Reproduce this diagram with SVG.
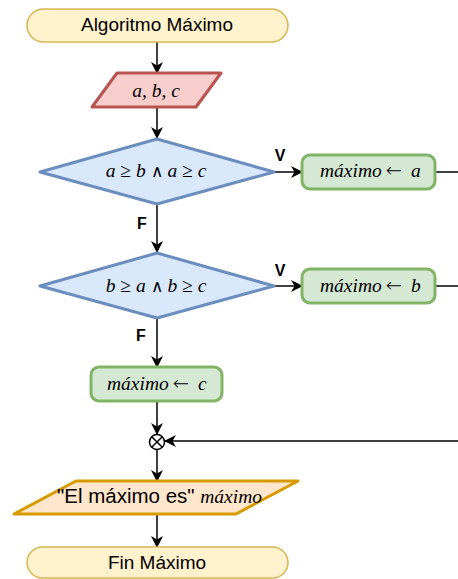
<svg xmlns="http://www.w3.org/2000/svg" width="458" height="579" viewBox="0 0 458 579">
<defs>
<marker id="arr" viewBox="0 0 12 12" refX="11" refY="6" markerWidth="12" markerHeight="12" markerUnits="userSpaceOnUse" orient="auto">
<path d="M0,0 L12,6 L0,12 L3.5,6 z" fill="#000"/>
</marker>
<style>
.term{fill:#fff2cc;stroke:#d6b656;stroke-width:1.5}
.inp{fill:#f8cecc;stroke:#b85450;stroke-width:3;stroke-linejoin:round}
.dec{fill:#dae8fc;stroke:#6c8ebf;stroke-width:3;stroke-linejoin:round}
.proc{fill:#d5e8d4;stroke:#82b366;stroke-width:3}
.out{fill:#ffe6cc;stroke:#d79b00;stroke-width:3;stroke-linejoin:round}
.edge{fill:none;stroke:#000;stroke-width:1.5}
.sans{font-family:"Liberation Sans",Arial,sans-serif;font-size:19px;fill:#000}
.lbl{font-family:"Liberation Sans",Arial,sans-serif;font-size:16px;font-weight:bold;fill:#000}
.math{font-family:"Liberation Serif","DejaVu Serif",serif;font-size:19.5px;fill:#000}
.it{font-style:italic}
.op{font-family:"DejaVu Sans",sans-serif;font-weight:200}
.and{font-family:"DejaVu Sans",sans-serif;font-weight:200;font-size:17px}
</style>
</defs>
<g id="connectors">
<path class="edge" d="M157,42 V73" marker-end="url(#arr)"/>
<path class="edge" d="M157,107 V138" marker-end="url(#arr)"/>
<path class="edge" d="M274,172 H302" marker-end="url(#arr)"/>
<path class="edge" d="M157,204 V252" marker-end="url(#arr)"/>
<path class="edge" d="M274,286 H302" marker-end="url(#arr)"/>
<path class="edge" d="M157,319 V367" marker-end="url(#arr)"/>
<path class="edge" d="M435,172 H475 V441 H165" marker-end="url(#arr)"/>
<path class="edge" d="M435,286 H475"/>
<path class="edge" d="M157,401 V434" marker-end="url(#arr)"/>
<path class="edge" d="M157,450 V481" marker-end="url(#arr)"/>
<path class="edge" d="M157,514 V547" marker-end="url(#arr)"/>
<text class="lbl" x="280" y="161" text-anchor="middle">V</text>
<text class="lbl" x="142" y="229" text-anchor="middle">F</text>
<text class="lbl" x="280" y="276" text-anchor="middle">V</text>
<text class="lbl" x="141" y="341" text-anchor="middle">F</text>
</g>
<g id="start">
<rect class="term" x="27" y="9" width="261" height="33" rx="16.5"/>
<text class="sans" x="157" y="31" text-anchor="middle">Algoritmo Máximo</text>
</g>
<g id="input">
<polygon class="inp" points="117,73 221,73 196,107 92,107"/>
<text class="math it" x="156" y="97" text-anchor="middle">a, b, c</text>
</g>
<g id="cond1">
<polygon class="dec" points="157,139 274,172 157,204 40,172"/>
<text class="math" x="156" y="177" text-anchor="middle"><tspan class="it">a</tspan> ≥ <tspan class="it">b</tspan> <tspan class="and">∧</tspan> <tspan class="it">a</tspan> ≥ <tspan class="it">c</tspan></text>
</g>
<g id="maxA">
<rect class="proc" x="302" y="155" width="133" height="34" rx="8"/>
<text class="math" x="320" y="177"><tspan class="it">máximo</tspan><tspan class="op" dx="4">←</tspan><tspan class="it" dx="9">a</tspan></text>
</g>
<g id="cond2">
<polygon class="dec" points="157,253 274,286 157,318 40,286"/>
<text class="math" x="156" y="292" text-anchor="middle"><tspan class="it">b</tspan> ≥ <tspan class="it">a</tspan> <tspan class="and">∧</tspan> <tspan class="it">b</tspan> ≥ <tspan class="it">c</tspan></text>
</g>
<g id="maxB">
<rect class="proc" x="302" y="269" width="133" height="34" rx="8"/>
<text class="math" x="320" y="292"><tspan class="it">máximo</tspan><tspan class="op" dx="4">←</tspan><tspan class="it" dx="9">b</tspan></text>
</g>
<g id="maxC">
<rect class="proc" x="91" y="367" width="131" height="34" rx="8"/>
<text class="math" x="107" y="390"><tspan class="it">máximo</tspan><tspan class="op" dx="4">←</tspan><tspan class="it" dx="9">c</tspan></text>
</g>
<g id="junction">
<circle cx="157" cy="442" r="7.5" fill="#fff" stroke="#000" stroke-width="1.5"/>
<path d="M151.7,436.7 L162.3,447.3 M162.3,436.7 L151.7,447.3" stroke="#000" stroke-width="1.5"/>
</g>
<g id="output">
<polygon class="out" points="76,481 298,481 236,514 14,514"/>
<text x="57" y="503"><tspan class="sans" style="font-size:20.5px">"El máximo es" </tspan><tspan class="math it">máximo</tspan></text>
</g>
<g id="end">
<rect class="term" x="27" y="547" width="261" height="31" rx="15.5"/>
<text class="sans" x="157" y="569" text-anchor="middle">Fin Máximo</text>
</g>
</svg>
